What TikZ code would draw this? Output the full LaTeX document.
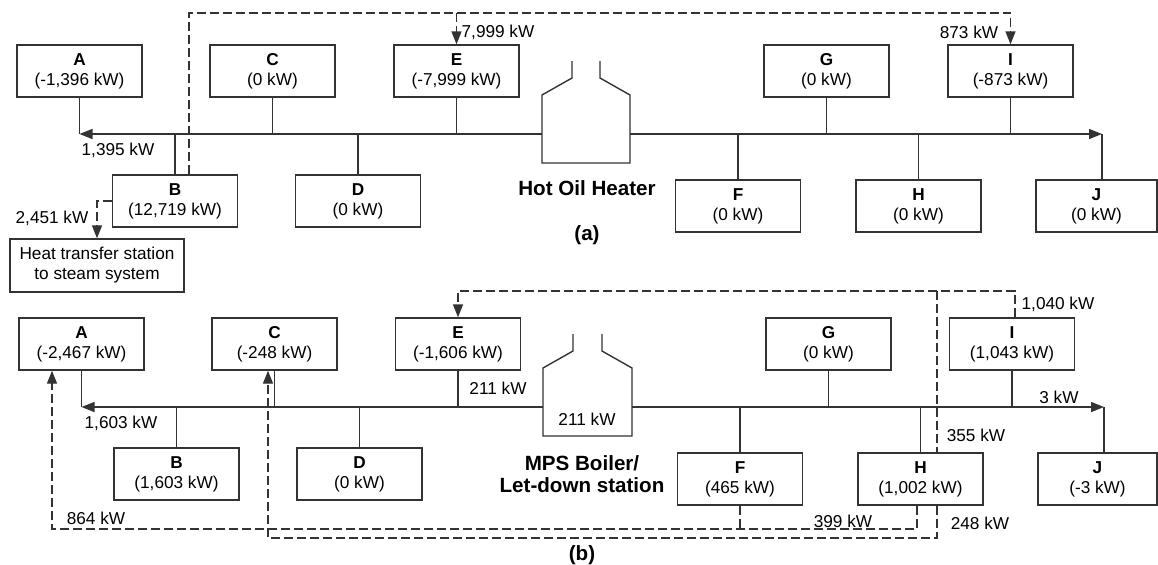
\documentclass[tikz,border=0pt]{standalone}
\usepackage{fontspec}
\setmainfont{Liberation Sans}
\usetikzlibrary{arrows.meta}
\tikzset{
  wire/.style={draw=black!80},
  unit/.style={wire, minimum width=62.5pt, minimum height=26pt, align=center, inner sep=1pt, font=\fontsize{8.6}{10}\selectfont},
  lbl/.style={inner sep=0pt, font=\fontsize{8.6}{10}\selectfont},
  flow/.style={-{Triangle[length=6.5pt,width=5pt]}},
  xfer/.style={dash pattern=on 4.5pt off 2pt},
  title/.style={font=\fontsize{10.3}{11}\selectfont\bfseries, align=center, inner sep=0pt}
}

\begin{document}
\begin{tikzpicture}[x=0.5pt,y=-0.5pt,line width=0.7pt]
\useasboundingbox (0,0) rectangle (1158,564);

% (a) hot oil heater
\node[unit] (aA) at (79.5,71) {\textbf{A}\\(-1,396 kW)};
\node[unit] (aC) at (272.5,71) {\textbf{C}\\(0 kW)};
\node[unit] (aE) at (456.5,71) {\textbf{E}\\(-7,999 kW)};
\node[unit] (aG) at (826.5,71) {\textbf{G}\\(0 kW)};
\node[unit] (aI) at (1010.5,71) {\textbf{I}\\(-873 kW)};
\node[unit] (aB) at (175,201) {\textbf{B}\\(12,719 kW)};
\node[unit] (aD) at (358,201) {\textbf{D}\\(0 kW)};
\node[unit] (aF) at (738,206) {\textbf{F}\\(0 kW)};
\node[unit] (aH) at (918.5,206) {\textbf{H}\\(0 kW)};
\node[unit,minimum width=60.5pt] (aJ) at (1096.5,206) {\textbf{J}\\(0 kW)};
\node[unit,minimum width=87pt,minimum height=26.5pt] (aHT) at (97,265.5) {Heat transfer station\\to steam system};

\draw[wire] (572,61) -- (572,78) -- (542,95) -- (542,163) -- (630,163) -- (630,95) -- (600,78) -- (600,61);
\coordinate (aHW) at (542,134);
\coordinate (aHE) at (630,134);
\coordinate (aL) at (79.5,134);
\coordinate (aR) at (1102,134);
\coordinate (aTop) at (0,13);

\draw[wire,flow] (aHW) -- (aL);
\draw[wire,flow] (aHE) -- (aR);
\draw[wire] (aA) -- (aL);
\draw[wire] (aC) -- (aC |- aL);
\draw[wire] (aE) -- (aE |- aL);
\draw[wire] (aG) -- (aG |- aL);
\draw[wire] (aI) -- (aI |- aL);
\draw[wire] (aB) -- (aB |- aL);
\draw[wire] (aD) -- (aD |- aL);
\draw[wire] (aF) -- (aF |- aL);
\draw[wire] (aH) -- (aH |- aL);
\draw[wire] (aR) -- (aR |- aJ.north);

\draw[wire,xfer,flow] ([xshift=7pt]aB.north) -- ([xshift=7pt]aB.north |- aTop) -| (aI.north);
\draw[wire,xfer,flow] (aE.north |- aTop) -- (aE.north);
\draw[wire,xfer,flow] (aB.west) -| (aHT.north);

\node[lbl] (a1395) at (118,150) {1,395 kW};
\node[lbl] (a7999) at (498,32) {7,999 kW};
\node[lbl] (a873) at (969,32) {873 kW};
\node[lbl] (a2451) at (52,218) {2,451 kW};
\node[title] (aHeater) at (587,188) {Hot Oil Heater};
\node[title] (aCap) at (587,235) {(a)};

% (b) MPS boiler / let-down station
\node[unit] (bA) at (81.5,344) {\textbf{A}\\(-2,467 kW)};
\node[unit] (bC) at (274.5,344) {\textbf{C}\\(-248 kW)};
\node[unit] (bE) at (458,344) {\textbf{E}\\(-1,606 kW)};
\node[unit] (bG) at (828.5,344) {\textbf{G}\\(0 kW)};
\node[unit] (bI) at (1012,344) {\textbf{I}\\(1,043 kW)};
\node[unit] (bB) at (176.5,474) {\textbf{B}\\(1,603 kW)};
\node[unit] (bD) at (359.5,474) {\textbf{D}\\(0 kW)};
\node[unit] (bF) at (740,479) {\textbf{F}\\(465 kW)};
\node[unit] (bH) at (920.5,479) {\textbf{H}\\(1,002 kW)};
\node[unit,minimum width=59.5pt] (bJ) at (1097.5,479) {\textbf{J}\\(-3 kW)};

\draw[wire] (573,334) -- (573,351) -- (543,368) -- (543,436) -- (632,436) -- (632,368) -- (602,351) -- (602,334);
\coordinate (bBW) at (543,407);
\coordinate (bBE) at (632,407);
\coordinate (bL) at (81.5,407);
\coordinate (bR) at (1104,407);
\coordinate (bTop) at (0,291);
\coordinate (bLow) at (0,529);
\coordinate (bBot) at (0,538);

\draw[wire,flow] (bBW) -- (bL);
\draw[wire,flow] (bBE) -- (bR);
\draw[wire] (bA) -- (bL);
\draw[wire] (bC) -- (bC |- bL);
\draw[wire] (bE) -- (bE |- bL);
\draw[wire] (bG) -- (bG |- bL);
\draw[wire] (bI) -- (bI |- bL);
\draw[wire] (bB) -- (bB |- bL);
\draw[wire] (bD) -- (bD |- bL);
\draw[wire] (bF) -- (bF |- bL);
\draw[wire] (bH) -- (bH |- bL);
\draw[wire] (bR) -- (bR |- bJ.north);

\draw[wire,xfer,flow] ([xshift=1.5pt]bI.north) -- ([xshift=1.5pt]bI.north |- bTop) -| (bE.north);
\draw[wire,xfer] ([xshift=8.25pt]bH.north |- bTop) -- ([xshift=8.25pt]bH.north);
\draw[wire,xfer,flow] ([xshift=8.25pt]bH.south) -- ([xshift=8.25pt]bH.south |- bBot) -| ([xshift=-3.25pt]bC.south);
\draw[wire,xfer,flow] ([xshift=-1.75pt]bH.south) -- ([xshift=-1.75pt]bH.south |- bLow) -| ([xshift=-14.75pt]bA.south);
\draw[wire,xfer] (bF.south) -- (bF.south |- bLow);

\node[lbl] (b1040) at (1058,304) {1,040 kW};
\node[lbl] (b211e) at (498,388) {211 kW};
\node[lbl] (b211h) at (587,419) {211 kW};
\node[lbl] (b1603) at (121,423) {1,603 kW};
\node[lbl] (b3) at (1059,397) {3 kW};
\node[lbl] (b355) at (976,435) {355 kW};
\node[lbl] (b248) at (980,523) {248 kW};
\node[lbl] (b399) at (843,521) {399 kW};
\node[lbl] (b864) at (96,518) {864 kW};
\node[title] (bBoiler) at (582,474) {MPS Boiler/\\Let-down station};
\node[title] (bCap) at (582,555) {(b)};
\end{tikzpicture}
\end{document}
